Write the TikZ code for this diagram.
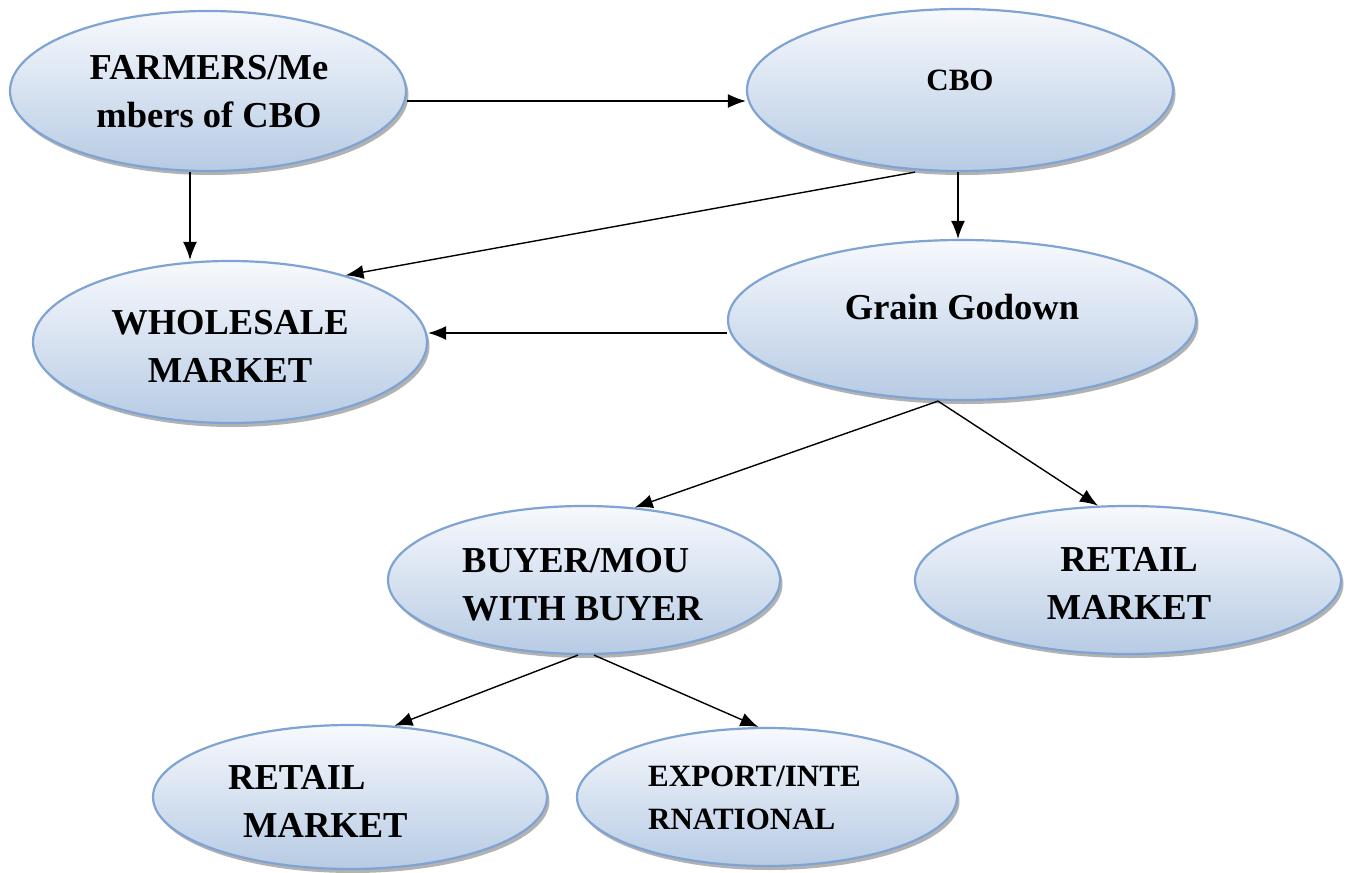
\documentclass[tikz,border=0pt]{standalone}
\usepackage{fontspec}
\setmainfont{Liberation Serif}
\usetikzlibrary{shapes.geometric,arrows.meta,shadows}
\begin{document}
\begin{tikzpicture}[x=1pt,y=-1pt,
  oval/.style={ellipse, inner sep=0pt, draw=ovalborder, line width=2.2pt,
    top color=ovaltop, bottom color=ovalbot,
    drop shadow={shadow xshift=2.5pt, shadow yshift=-4pt, fill=black!50, opacity=0.6}},
  big/.style={font=\fontsize{36.5}{48}\selectfont\bfseries, inner sep=0pt},
  small/.style={font=\fontsize{31}{43}\selectfont\bfseries, inner sep=0pt},
  arr/.style={-{Latex[length=18pt,width=14pt]}, line width=1.4pt, black}]
\definecolor{ovalborder}{HTML}{7FA3D3}
\definecolor{ovaltop}{HTML}{F7F9FD}
\definecolor{ovalbot}{HTML}{B7CBE4}
\useasboundingbox (0,0) rectangle (1348,872);
\fill[white] (0,0) rectangle (1348,872);
% ellipses
\node[oval, minimum width=396pt, minimum height=160pt] (farm) at (208,91) {};
\node[oval, minimum width=426pt, minimum height=162pt] (cbo) at (960,90) {};
\node[oval, minimum width=394pt, minimum height=162pt] (whole) at (230,342) {};
\node[oval, minimum width=468pt, minimum height=160pt] (grain) at (962,320) {};
\node[oval, minimum width=392pt, minimum height=148pt] (buyer) at (584,580) {};
\node[oval, minimum width=426pt, minimum height=148pt] (retr) at (1128,580) {};
\node[oval, minimum width=394pt, minimum height=144pt] (retl) at (350,797) {};
\node[oval, minimum width=380pt, minimum height=138pt] (exp) at (767,797) {};
% texts
\node[big, align=center] (tfarm) at (209,92) {FARMERS/Me\\mbers of CBO};
\node[small] (tcbo) at (960,80) {CBO};
\node[big, align=center] (twhole) at (230,346) {WHOLESALE\\MARKET};
\node[big] (tgrain) at (962,307) {Grain Godown};
\node[big, align=left, anchor=west] (tbuyer) at (462,585) {BUYER/MOU\\WITH BUYER};
\node[big, align=center] (tretr) at (1129,583) {RETAIL\\MARKET};
\node[big, align=left, anchor=west] (tretl) at (228,801) {RETAIL\\\hspace*{15pt}MARKET};
\node[small, align=left, anchor=west] (texp) at (648,798) {EXPORT/INTE\\RNATIONAL};
% connectors
\draw[arr] (farm.east |- 0,101) -- (cbo.west |- 0,101);
\draw[arr] ([xshift=-18pt]farm.south) -- ([xshift=-40pt]whole.north);
\draw[arr] ([xshift=-45pt]cbo.south) -- (whole.30);
\draw[arr] ([xshift=-2pt]cbo.south) -- ([xshift=-4pt]grain.north);
\draw[arr] (grain.west |- 0,333) -- (whole.east |- 0,333);
\draw[arr] ([xshift=-24pt]grain.south) -- (buyer.55);
\draw[arr] ([xshift=-24pt]grain.south) -- (retr.112);
\draw[arr] ([xshift=-6pt]buyer.south) -- (retl.58);
\draw[arr] ([xshift=10pt]buyer.south) -- (exp.97);
\end{tikzpicture}
\end{document}
